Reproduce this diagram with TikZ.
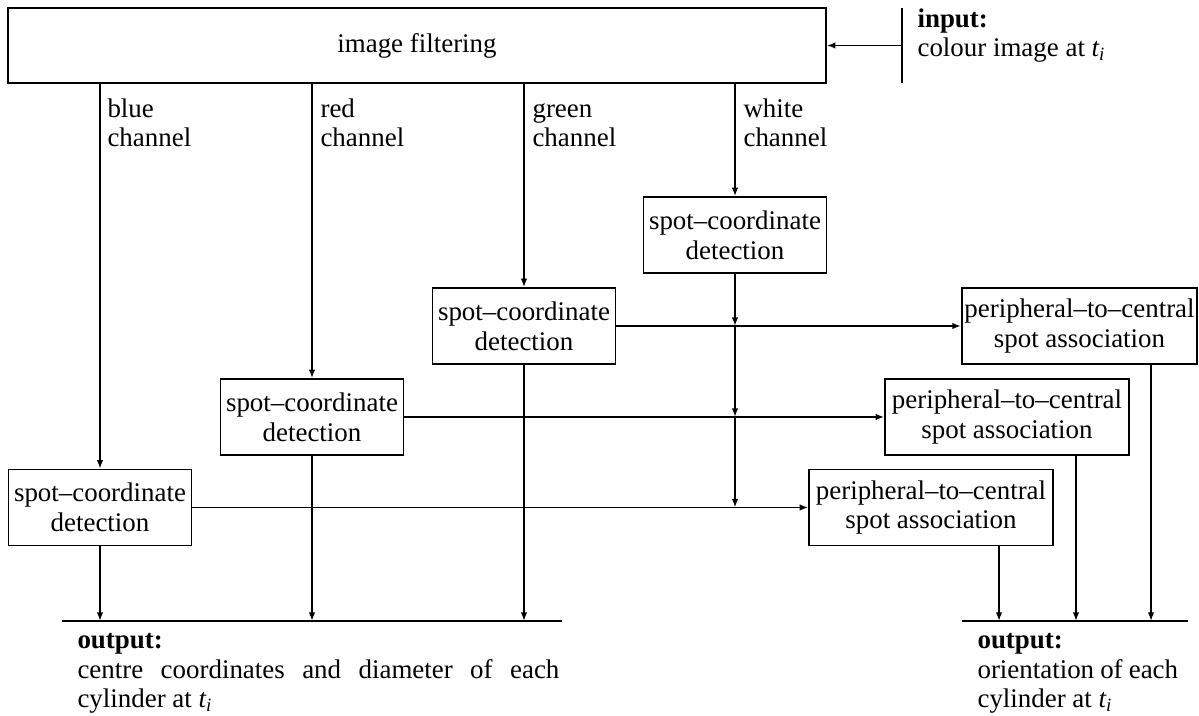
\documentclass[tikz,border=0pt]{standalone}
\usepackage{fontspec}
\setmainfont{Liberation Serif}
\usetikzlibrary{arrows.meta,positioning,calc}
\tikzset{
    filterbox/.style={
        draw,
        line width=0.6pt,
        align=center,
        minimum width=303.9pt,
        minimum height=27.9pt
    },
    spotbox/.style={
        draw,
        line width=0.6pt,
        align=center,
        inner sep=1pt,
        minimum width=68pt,
        minimum height=28.2pt
    },
    assocbox/.style={
        draw,
        line width=0.6pt,
        align=center,
        inner sep=1pt,
        minimum width=90.6pt,
        minimum height=28.2pt
    },
    flow/.style={-{Latex[length=3.2pt,width=2.4pt]}, line width=0.6pt},
    bar/.style={line width=0.6pt},
    chanlabel/.style={anchor=north west, align=left, inner sep=0pt},
    outtext/.style={anchor=north west, align=justify, inner sep=0pt}
}
\newcommand{\txtsize}{\fontsize{10}{11}\selectfont\hyphenpenalty=10000\relax\tolerance=9999\relax}
\newcommand{\ti}{\textit{t\textsubscript{i}}}

\begin{document}
\begin{tikzpicture}[x=0.3715pt, y=-0.3715pt,
    every node/.style={font=\txtsize}]
    \useasboundingbox (0,0) rectangle (1199,716);

    \node[filterbox] (filter) at (417,45.5) {image filtering};
    \coordinate (intop) at (902,8);
    \coordinate (inbot) at (902,83);
    \node[chanlabel] (intext) at (917,8) {\textbf{input:}\\colour image at \ti};

    \node[spotbox] (wspot) at (735,235) {spot--coordinate\\detection};
    \node[spotbox] (gspot) at (524,326) {spot--coordinate\\detection};
    \node[spotbox] (rspot) at (312,417) {spot--coordinate\\detection};
    \node[spotbox] (bspot) at (100,507.5) {spot--coordinate\\detection};

    \node[assocbox, minimum width=87.3pt] (assoc1) at (1079.5,326) {peripheral--to--central\\spot association};
    \node[assocbox] (assoc2) at (1007,417) {peripheral--to--central\\spot association};
    \node[assocbox] (assoc3) at (931,507.5) {peripheral--to--central\\spot association};

    \node[chanlabel] (blab) at (107,98) {blue\\channel};
    \node[chanlabel] (rlab) at (320,98) {red\\channel};
    \node[chanlabel] (glab) at (532,98) {\vphantom{h}green\\channel};
    \node[chanlabel] (wlab) at (743,98) {white\\channel};

    % output bars
    \coordinate (outLa) at (62,621);
    \coordinate (outLb) at (562,621);
    \coordinate (outRa) at (962,621);
    \coordinate (outRb) at (1188,621);
    \node[outtext, text width=179pt] (outL) at (77,633) {\textbf{output:}\\centre coordinates and diameter of each cylinder at \ti};
    \node[outtext, text width=74.5pt] (outR) at (977,633) {\textbf{output:}\\orientation of each cylinder at \ti};

    \draw[bar] (intop) -- (inbot);
    \draw[flow] ($(intop)!0.5!(inbot)$) -- (filter.east);
    \foreach \s in {wspot,gspot,rspot,bspot}
        \draw[flow] (\s.north |- filter.south) -- (\s.north);

    \draw[flow] (gspot.east) -- (assoc1.west);
    \draw[flow] (rspot.east) -- (assoc2.west);
    \draw[flow] (bspot.east) -- (assoc3.west);

    % white channel feeds every association
    \coordinate (j1) at (wspot.south |- gspot.east);
    \coordinate (j2) at (wspot.south |- rspot.east);
    \coordinate (j3) at (wspot.south |- bspot.east);
    \draw[flow] (wspot.south) -- (j1);
    \draw[flow] (j1) -- (j2);
    \draw[flow] (j2) -- (j3);

    \draw[bar] (outLa) -- (outLb);
    \draw[bar] (outRa) -- (outRb);
    \foreach \s in {bspot,rspot,gspot}
        \draw[flow] (\s.south) -- (\s.south |- outLa);
    \coordinate (a1out) at ($(assoc1.south)+(71.5,0)$);
    \coordinate (a2out) at ($(assoc2.south)+(69,0)$);
    \coordinate (a3out) at ($(assoc3.south)+(68,0)$);
    \foreach \s in {a1out,a2out,a3out}
        \draw[flow] (\s) -- (\s |- outRa);
\end{tikzpicture}
\end{document}
